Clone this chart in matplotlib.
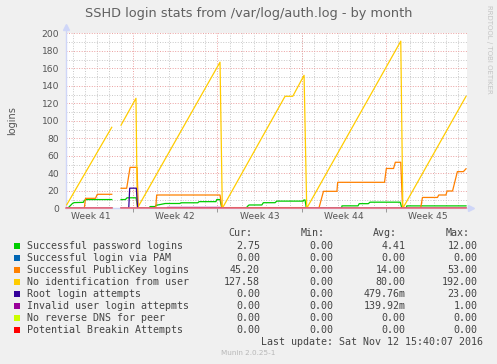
import numpy as np
import matplotlib
matplotlib.use("Agg")
import matplotlib.pyplot as plt
from matplotlib.patches import Rectangle

nan = np.nan

# DATA (x in days from the left edge of the graph)
pwd_days = [0.0, 0.14, 0.55, 0.69, 1.44, 1.52, 1.72, 3.80, 3.85, 4.57,
            4.93, 5.07, 5.82, 5.98, 6.92, 6.98, 7.42, 7.48, 7.70, 8.25,
            9.45, 9.55, 10.95, 11.05, 12.45, 12.52, 12.79, 12.94, 15.00, 15.05,
            15.20, 16.26, 16.39, 17.36, 17.50, 19.70, 19.75, 19.85, 19.96, 22.88,
            22.92, 24.25, 24.35, 25.10, 25.25, 27.75, 27.90, 28.25, 28.30, 33.22]
pwd_vals = [0, 0, 5.7, 6.5, 6.8, 9.1, 10, 10, nan, 10,
            10, 12, 12, 0, 0, 2, 2, 3.5, 4, 5.5,
            5.5, 6.3, 6.3, 7.6, 7.6, 10, 10, 0, 0, 2,
            3.8, 3.8, 6.4, 6.4, 8.2, 8.2, 9.5, 9.5, 0, 0,
            2.8, 2.8, 5.3, 5.3, 7, 7, 0, 0, 2.75, 2.75]

pubkey_days = [0.0, 1.52, 1.62, 2.45, 2.60, 3.80, 3.85, 4.57, 5.04, 5.32,
               5.90, 6.00, 7.45, 7.53, 12.79, 12.94, 19.85, 19.97, 21.00, 21.38,
               22.50, 22.56, 26.45, 26.60, 27.20, 27.35, 27.80, 27.95, 29.45, 29.60,
               30.85, 30.95, 31.55, 31.65, 32.10, 32.50, 33.00, 33.22]
pubkey_vals = [0, 0, 11.4, 11.4, 16, 16, nan, 22.9, 22.9, 46.8,
               46.8, 0, 0, 15.2, 15.2, 0.8, 0.8, 0, 0, 19.4,
               19.4, 29.7, 29.7, 45.5, 45.5, 52.6, 52.6, 0, 0, 12.4,
               12.4, 15.2, 15.2, 19.8, 19.8, 41.9, 41.9, 45.2]

noid_days = [0.06, 3.80, 3.85, 4.57, 5.81, 5.92, 12.79, 12.98, 18.19, 18.83,
             19.77, 19.99, 27.80, 27.97, 33.22]
noid_vals = [4, 92.6, nan, 95, 125.7, 0, 167, 0, 128, 128,
             152, 0, 191, 0, 128]

root_days = [0.0, 3.80, 3.85, 4.57, 5.21, 5.29, 5.84, 5.95, 33.22]
root_vals = [0, 0, nan, 0, 0, 23, 23, 0, 0]

invalid_days = [0.0, 3.80, 3.85, 4.57, 8.39, 8.42, 12.79, 12.94, 33.22]
invalid_vals = [0, 0, nan, 0, 0, 1, 1, 0, 0]

zero_days = [0.0, 3.80, 3.85, 4.57, 33.22]
zero_vals = [0, 0, nan, 0, 0]

week_names = ["Week 41", "Week 42", "Week 43", "Week 44", "Week 45"]
week_starts = [-1.42, 5.58, 12.58, 19.58, 26.58]

names = ["Successful password logins", "Successful login via PAM",
         "Successful PublicKey logins", "No identification from user",
         "Root login attempts", "Invalid user login attepmts",
         "No reverse DNS for peer", "Potential Breakin Attempts"]
colors = ["#00cc00", "#0066b3", "#ff8000", "#ffcc00",
          "#330099", "#990099", "#ccff00", "#ff0000"]
cur = ["2.75", "0.00", "45.20", "127.58", "0.00", "0.00", "0.00", "0.00"]
mins = ["0.00"] * 8
avg = ["4.41", "0.00", "14.00", "80.00", "479.76m", "139.92m", "0.00", "0.00"]
maxs = ["12.00", "0.00", "53.00", "192.00", "23.00", "1.00", "0.00", "0.00"]

#FIGURE
W, H = 497, 364
def fx(px):
    return px / W
def fy(py):
    return 1 - py / H

fig = plt.figure(figsize=(W / 100, H / 100), dpi=100, facecolor="#f0f0f0")
ax = fig.add_axes([fx(66), fy(208.3), 401 / W, 175 / H])
ax.set_facecolor("white")
ax.set_xlim(0, 33.3)
ax.set_ylim(0, 200)

#GRID
minor_x = [d for d in np.arange(0.58, 33.3, 1.0) if abs((d - 5.58) % 7) > 0.01]
for d in minor_x:
    ax.axvline(d, color="#c8c8c8", lw=0.7, ls=(0, (1, 1.6)), zorder=0)
for v in range(10, 200, 20):
    ax.axhline(v, color="#c8c8c8", lw=0.7, ls=(0, (1, 1.6)), zorder=0)
for d in week_starts[1:]:
    ax.axvline(d, color="#eba0a0", lw=0.7, ls=(0, (1, 1.6)), zorder=0)
for v in range(20, 201, 20):
    ax.axhline(v, color="#eba0a0", lw=0.7, ls=(0, (1, 1.6)), zorder=0)

#SERIES
lw = 0.9
ax.plot(pwd_days, pwd_vals, color=colors[0], lw=lw)
ax.plot(zero_days, zero_vals, color=colors[1], lw=lw)
ax.plot(pubkey_days, pubkey_vals, color=colors[2], lw=lw)
ax.plot(noid_days, noid_vals, color=colors[3], lw=lw)
ax.plot(root_days, root_vals, color=colors[4], lw=lw)
ax.plot(invalid_days, invalid_vals, color=colors[5], lw=lw)
ax.plot(zero_days, zero_vals, color=colors[6], lw=lw)
ax.plot(zero_days, zero_vals, color="#ee6677", lw=1.1, clip_on=False)

#AXES
for s in ax.spines.values():
    s.set_visible(False)
axis_c = "#cfd6f8"
ax.plot([0, 0], [0, 1.03], color=axis_c, lw=1, transform=ax.transAxes, clip_on=False, zorder=1)
ax.plot([0, 1.008], [0, 0], color=axis_c, lw=1, transform=ax.transAxes, clip_on=False, zorder=1)
ax.plot([0], [1.035], marker="^", ms=4, color=axis_c, transform=ax.transAxes, clip_on=False)
ax.plot([1.01], [0], marker=">", ms=4, color=axis_c, transform=ax.transAxes, clip_on=False)

ax.set_yticks(range(0, 201, 20))
ax.tick_params(axis="y", length=0, pad=5, labelsize=6.6, labelcolor="#555555")
ax.set_xticks(week_starts[1:])
ax.set_xticklabels([])
ax.tick_params(axis="x", length=3, color="#999999", width=0.7)
for i, w in enumerate(week_names):
    ax.text(week_starts[i] + 3.5, -4.5, w, ha="center", va="top",
            fontsize=6.6, color="#555555")

#TEXT
fig.text(0.5, fy(14), "SSHD login stats from /var/log/auth.log - by month",
         ha="center", va="center", fontsize=9.3, color="#606060")
fig.text(fx(12), fy(121), "logins", rotation=90, ha="center", va="center",
         fontsize=7, color="#555555")
fig.text(fx(489), fy(5), "RRDTOOL / TOBI OETIKER", rotation=270, ha="center",
         va="top", fontsize=5, color="#c4c4c4")

mono = "DejaVu Sans Mono"
fs = 7.2
txt = "#444444"
cols = [260, 333.3, 405.7, 477.3]
heads = ["Cur:", "Min:", "Avg:", "Max:"]
head_x = [252.7, 325, 397.3, 469.3]
for hx, h in zip(head_x, heads):
    fig.text(fx(hx), fy(233.3), h, ha="right", va="center", family=mono, fontsize=fs, color=txt)
for i in range(len(names)):
    y = 245.7 + 12 * i
    fig.patches.append(Rectangle((fx(14), fy(y + 3)), 6 / W, 6 / H,
                                 transform=fig.transFigure, facecolor=colors[i],
                                 edgecolor="none"))
    fig.text(fx(26.7), fy(y), names[i], ha="left", va="center", family=mono,
             fontsize=fs, color=txt)
    for cx, val in zip(cols, [cur[i], mins[i], avg[i], maxs[i]]):
        fig.text(fx(cx), fy(y), val, ha="right", va="center", family=mono,
                 fontsize=fs, color=txt)

fig.text(fx(483.3), fy(341.7), "Last update: Sat Nov 12 15:40:07 2016",
         ha="right", va="center", family=mono, fontsize=fs, color=txt)
fig.text(fx(248), fy(353.3), "Munin 2.0.25-1", ha="center", va="center",
         fontsize=5.2, color="#b8b8b8")

fig.savefig("out.png", dpi=100, facecolor=fig.get_facecolor())
